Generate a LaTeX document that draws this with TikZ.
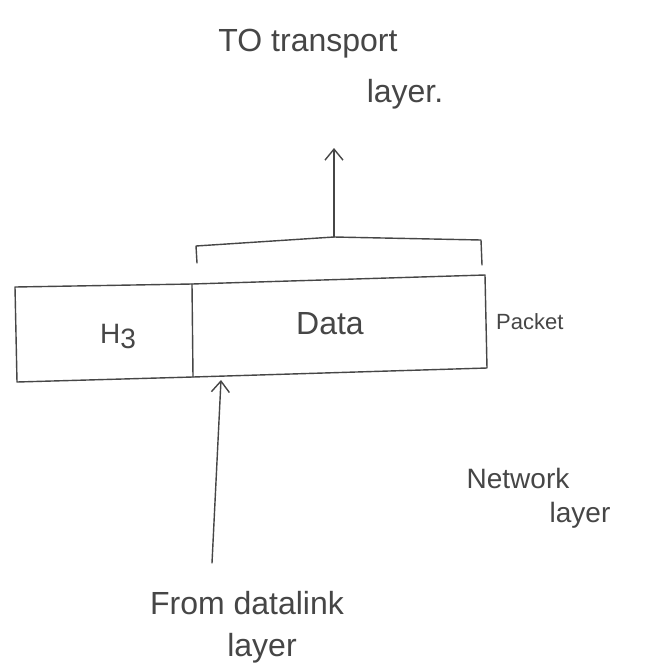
\documentclass[tikz,border=0pt]{standalone}
\usepackage{fontspec}
\setmainfont{Liberation Sans}
\usetikzlibrary{arrows.meta}
\definecolor{ink}{RGB}{70,70,70}
\begin{document}
\begin{tikzpicture}[x=1pt,y=-1pt,
  pen/.style={draw=ink,line width=1.4pt,line cap=round,line join=round},
  arrowpen/.style={pen,-{Straight Barb[length=11pt,width=18pt]}},
  lbl/.style={text=ink,font=\fontsize{32}{36}\selectfont,inner sep=0pt},
  lblmid/.style={text=ink,font=\fontsize{28}{32}\selectfont,inner sep=0pt},
  lblsmall/.style={text=ink,font=\fontsize{22}{26}\selectfont,inner sep=0pt}]
\useasboundingbox[fill=white] (0,0) rectangle (656,665);

% packet box: header cell and data cell
\coordinate (tl) at (15,287);
\coordinate (tr) at (485,275);
\coordinate (br) at (487,368);
\coordinate (bl) at (17,382);
\coordinate (dt) at (192,284);
\coordinate (db) at (193,377);
\draw[pen] (tl) -- (dt) -- (tr) -- (br) -- (db) -- (bl) -- cycle;
\draw[pen] (dt) -- (db);

\node[lblmid] (h3) at (118,336) {H\raisebox{-5pt}{3}};
\node[lbl] (data) at (330,324) {Data};
\node[lblsmall,anchor=west] (packet) at (496,322) {Packet};

% bracket over the data part, with the arrow up to the transport layer
\coordinate (bl1) at (197,263);
\coordinate (bl2) at (196,246);
\coordinate (bmid) at (334,237);
\coordinate (br2) at (481,240);
\coordinate (br1) at (482,265);
\draw[pen] (bl1) -- (bl2) -- (bmid) -- (br2) -- (br1);

\node[lbl] (to) at (308,44) {TO transport};
\node[lbl] (tolayer) at (405,94) {layer.};
\coordinate (uptip) at (334,148);
\draw[arrowpen] (bmid) -- (uptip);

% arrow coming up from the data link layer
\node[lbl] (from) at (247,603) {From datalink};
\node[lbl] (fromlayer) at (262,648) {layer};
\coordinate (inbase) at (212,563);
\coordinate (intip) at (221,380);
\draw[arrowpen] (inbase) -- (intip);

% layer name
\node[lblmid] (net) at (518,478) {Network};
\node[lblmid] (netlayer) at (580,515) {layer};
\end{tikzpicture}
\end{document}
